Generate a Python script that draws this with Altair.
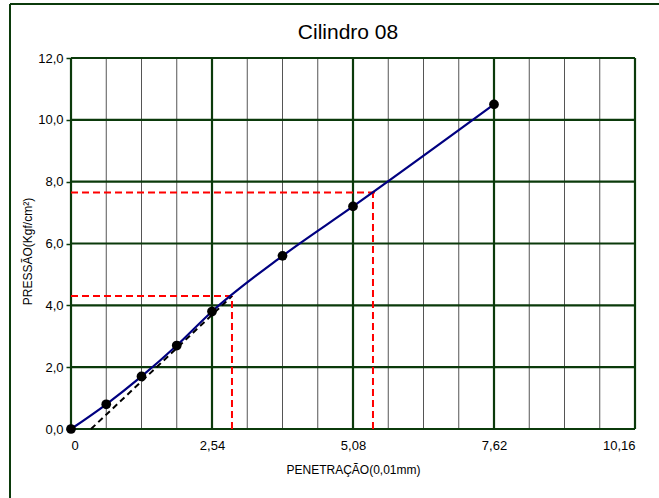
import altair as alt
import pandas as pd

# Measured CBR penetration test points
penetracao = [0.0, 0.635, 1.27, 1.905, 2.54, 3.81, 5.08, 7.62]
pressao = [0.0, 0.8, 1.7, 2.7, 3.8, 5.6, 7.2, 10.5]

# Corrected (tangent) start of the curve
corr_x = [0.36, 2.90]
corr_y = [0.0, 4.3]

# Corrected readings at 2,54 and 5,08 mm
leitura_x = [2.90, 5.44]
leitura_y = [4.3, 7.65]

x_ticks = [0, 2.54, 5.08, 7.62, 10.16]
y_ticks = [0, 2, 4, 6, 8, 10, 12]
minor_x = [round(i * 0.635, 3) for i in range(17) if i % 4 != 0]

GREEN = "#0b3a0b"
W, H = 564, 371

xs = alt.Scale(domain=[0, 10.16], nice=False, zero=False)
ys = alt.Scale(domain=[0, 12], nice=False, zero=False)

pts = pd.DataFrame({"x": penetracao, "y": pressao})
corr = pd.DataFrame({"x": corr_x, "y": corr_y})
leit = pd.DataFrame({"x": leitura_x, "y": leitura_y, "x0": [0, 0], "y0": [0, 0]})

x_axis = alt.Axis(
    values=x_ticks, title="PENETRAÇÃO(0,01mm)", grid=False, domain=False,
    ticks=False, labelPadding=10, titlePadding=12,
    labelExpr="datum.value == 0 ? '0' : replace(format(datum.value, '.2f'), '.', ',')",
)
y_axis = alt.Axis(
    values=y_ticks, title="PRESSÃO(Kgf/cm²)", grid=False, domain=False,
    tickSize=5, tickColor=GREEN, tickWidth=1.5, labelPadding=3, titlePadding=3,
    titleY=193,
    labelExpr="replace(format(datum.value, '.1f'), '.', ',')",
)

minor = alt.Chart(pd.DataFrame({"x": minor_x})).mark_rule(
    color="#555555", strokeWidth=1
).encode(x=alt.X("x:Q", scale=xs, axis=x_axis))

major_v = alt.Chart(pd.DataFrame({"x": x_ticks})).mark_rule(
    color=GREEN, strokeWidth=2.2
).encode(x=alt.X("x:Q", scale=xs))

major_h = alt.Chart(pd.DataFrame({"y": y_ticks})).mark_rule(
    color=GREEN, strokeWidth=2.2
).encode(y=alt.Y("y:Q", scale=ys, axis=y_axis))

curve = alt.Chart(pts).mark_line(
    color="#000080", strokeWidth=2.2, interpolate="monotone"
).encode(x=alt.X("x:Q", scale=xs), y=alt.Y("y:Q", scale=ys))

corr_line = alt.Chart(corr).mark_line(
    color="black", strokeWidth=2, strokeDash=[6, 4]
).encode(x=alt.X("x:Q", scale=xs), y=alt.Y("y:Q", scale=ys))

dots = alt.Chart(pts).mark_circle(color="black", size=95, opacity=1).encode(
    x=alt.X("x:Q", scale=xs), y=alt.Y("y:Q", scale=ys)
)

red_h = alt.Chart(leit).mark_rule(
    color="#ff0000", strokeWidth=2, strokeDash=[7, 4], x2Offset=4
).encode(x=alt.X("x0:Q", scale=xs), x2="x:Q", y=alt.Y("y:Q", scale=ys))

red_v = alt.Chart(leit).mark_rule(
    color="#ff0000", strokeWidth=2, strokeDash=[7, 4]
).encode(x=alt.X("x:Q", scale=xs), y=alt.Y("y0:Q", scale=ys), y2="y:Q")

# Outer frame of the chart (left and top edges)
frame_l = alt.Chart().mark_rule(color=GREEN, strokeWidth=2).encode(
    x=alt.value(-61), y=alt.value(-54), y2=alt.value(H + 80)
)
frame_t = alt.Chart().mark_rule(color=GREEN, strokeWidth=2).encode(
    x=alt.value(-61), x2=alt.value(W + 40), y=alt.value(-54)
)

chart = alt.layer(
    minor, major_v, major_h, red_h, red_v, corr_line, curve, dots, frame_l, frame_t
).properties(
    width=W, height=H,
    title=alt.TitleParams("Cilindro 08", fontSize=21, font="Liberation Sans",
                          fontWeight="normal", color="black", offset=0,
                          baseline="bottom", dy=61, dx=-5),
    autosize=alt.AutoSizeParams(type="none"),
    padding={"left": 71, "top": 58, "right": 24, "bottom": 69},
).configure_view(stroke=None).configure_axis(
    labelFont="Liberation Sans", titleFont="Liberation Sans",
    labelFontSize=13, titleFontSize=12, labelColor="black", titleColor="black",
    titleFontWeight="normal",
)

chart.save("out.html", embed_options={"renderer": "svg", "actions": False})
